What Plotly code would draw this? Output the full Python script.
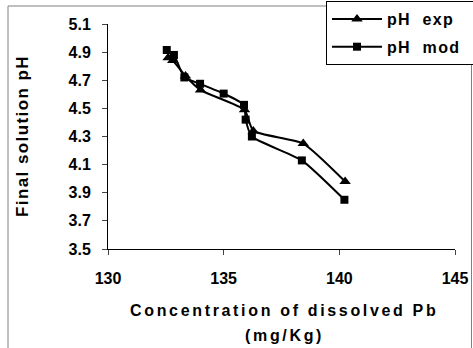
import plotly.graph_objects as go

exp_x = [132.6, 132.8, 133.35, 134.0, 135.9, 136.28, 138.44, 140.25]
exp_y = [4.86, 4.84, 4.73, 4.63, 4.49, 4.34, 4.25, 3.98]
mod_x = [132.54, 132.85, 133.3, 133.98, 135.0, 135.88, 135.95, 136.22, 138.38, 140.22]
mod_y = [4.915, 4.88, 4.72, 4.675, 4.605, 4.525, 4.42, 4.30, 4.13, 3.85]

x_ticks = [130, 135, 140, 145]
y_ticks = [3.5, 3.7, 3.9, 4.1, 4.3, 4.5, 4.7, 4.9, 5.1]

x_title_1 = "Concentration of dissolved Pb"
x_title_2 = "(mg/Kg)"
y_title = "Final solution pH"
name_exp = "pH  exp"
name_mod = "pH  mod"

SP6 = "\u2006"
HS = "\u200a"
NB = "\u00a0"


def spaced(s, sep):
    return sep.join(s)


fig = go.Figure()
fig.add_trace(go.Scatter(x=exp_x, y=exp_y, mode="lines+markers",
                         name=f"<b>{spaced(name_exp, HS)}</b>{NB * 3}",
                         legendgroup="a",
                         line=dict(color="black", width=2, shape="spline", smoothing=0.5),
                         marker=dict(symbol="triangle-up", size=10, color="black")))
fig.add_trace(go.Scatter(x=mod_x, y=mod_y, mode="lines+markers",
                         name=f"<b>{spaced(name_mod, HS)}</b>{NB * 3}",
                         legendgroup="b",
                         line=dict(color="black", width=2, shape="spline", smoothing=0.5),
                         marker=dict(symbol="square", size=8, color="black")))

font_fam = "Liberation Sans, Arial, sans-serif"
L, R, T, B = 108, 18, 24, 99
W, H = 473, 348
pw, ph = W - L - R, H - T - B


def px(x):
    return (x - L) / pw


def py(y):
    return 1 - (y - T) / ph


fig.update_layout(
    width=W, height=H,
    margin=dict(l=L, r=R, t=T, b=B, autoexpand=False),
    paper_bgcolor="white", plot_bgcolor="white",
    font=dict(family=font_fam, color="black", size=14),
    showlegend=True,
    legend=dict(x=px(326), y=py(1), xanchor="left", yanchor="top",
                bgcolor="white", bordercolor="black", borderwidth=1,
                font=dict(size=16, family=font_fam),
                tracegroupgap=4, itemwidth=50),
    xaxis=dict(range=[130, 145], tickvals=x_ticks,
               ticktext=[f"<b>{v}</b>" for v in x_ticks],
               ticks="outside", ticklen=5, ticklabelstandoff=10,
               showline=True, linecolor="black", linewidth=1, showgrid=False, zeroline=False,
               tickfont=dict(size=16, family=font_fam)),
    yaxis=dict(range=[3.5, 5.1], tickvals=y_ticks,
               ticktext=[f"<b>{v:.1f}</b>" for v in y_ticks],
               ticks="outside", ticklen=5, ticklabelstandoff=8,
               showline=True, linecolor="black", linewidth=1, showgrid=False, zeroline=False,
               tickfont=dict(size=16, family=font_fam)),
    annotations=[
        dict(text=f"<b>{spaced(x_title_1, SP6)}</b>", xref="paper", yref="paper",
             x=px(283), y=py(310), xanchor="center", yanchor="middle", showarrow=False,
             font=dict(size=16, family=font_fam)),
        dict(text=f"<b>{spaced(x_title_2, SP6)}</b>", xref="paper", yref="paper",
             x=px(283), y=py(335), xanchor="center", yanchor="middle", showarrow=False,
             font=dict(size=16, family=font_fam)),
        dict(text=f"<b>{spaced(y_title, HS)}</b>", xref="paper", yref="paper",
             x=px(22), y=py(137), xanchor="center", yanchor="middle", showarrow=False,
             textangle=-90, font=dict(size=17, family=font_fam)),
    ],
    shapes=[dict(type="rect", xref="paper", yref="paper", x0=px(8), x1=px(471.5),
                 y0=py(420), y1=py(6), line=dict(color="#808080", width=1), layer="below")],
)

fig.write_html("out.html")
